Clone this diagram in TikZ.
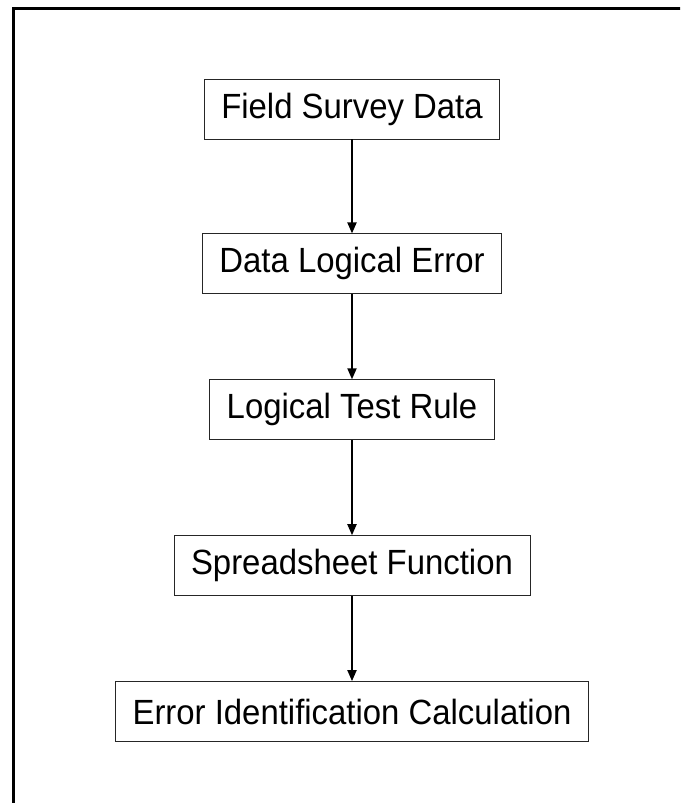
\documentclass[tikz,border=0pt]{standalone}
\usepackage{fontspec}
\setmainfont{Liberation Sans}[FakeStretch=0.94]
\usepackage{tikz}
\usetikzlibrary{arrows.meta, positioning}

\begin{document}
\begin{tikzpicture}[
    x=1pt, y=1pt,
    node distance=90pt,
    stage/.style={rectangle, draw=black!85, line width=0.9pt, minimum height=60pt, inner xsep=17pt, font=\fontsize{35}{40}\selectfont},
    arrow/.style={-{Triangle[length=11pt, width=9pt]}, line width=1.9pt}
]
\useasboundingbox (0,0) rectangle (680,803);
\clip (0,0) rectangle (680,803);
% outer frame (cut at right and bottom)
\draw[line width=3pt] (13.5,-20) -- (13.5,794.5) -- (700,794.5);
\node[stage] (s1) at (352,694) {Field Survey Data};
\node[stage, below=94pt of s1] (s2) {Data Logical Error};
\node[stage, below=85pt of s2] (s3) {Logical Test Rule};
\node[stage, below=95pt of s3] (s4) {Spreadsheet Function};
\node[stage, below=85pt of s4] (s5) {Error Identification Calculation};
\draw[arrow] (s1) -- (s2);
\draw[arrow] (s2) -- (s3);
\draw[arrow] (s3) -- (s4);
\draw[arrow] (s4) -- (s5);
\end{tikzpicture}
\end{document}
